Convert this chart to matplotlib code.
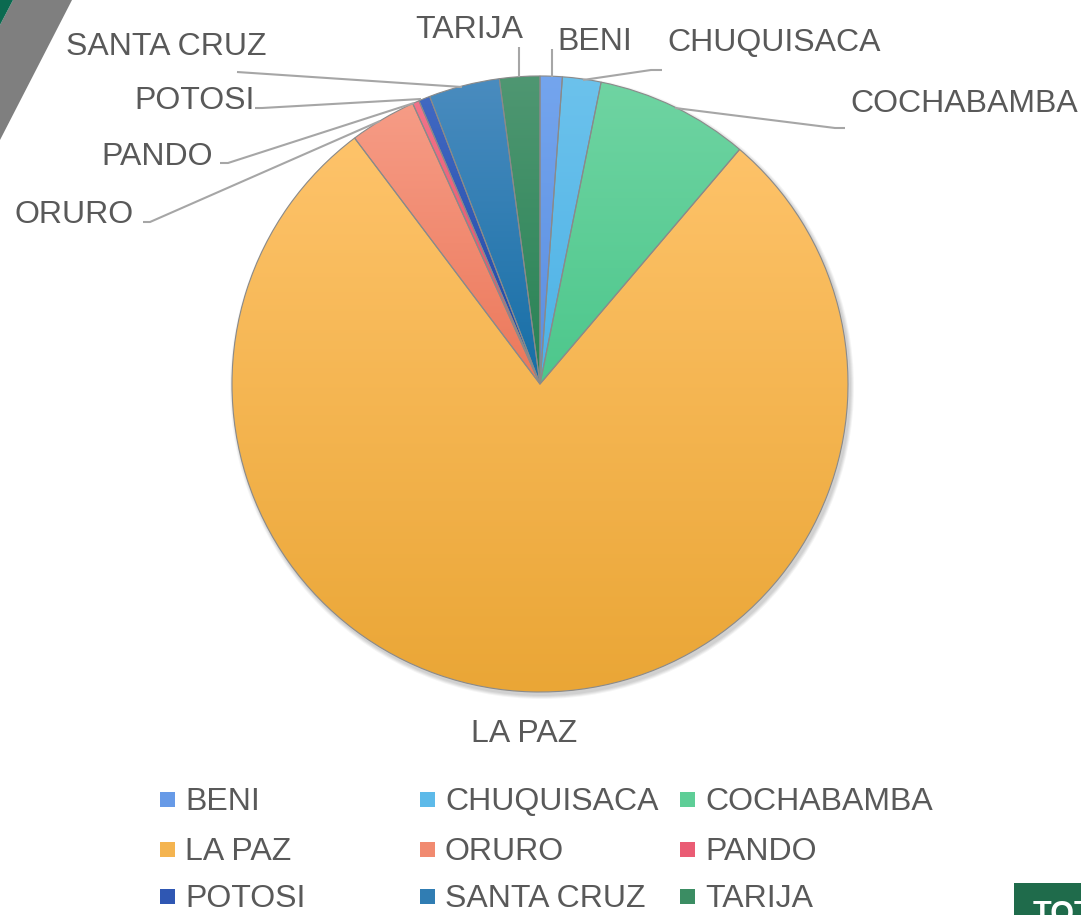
import numpy as np
import matplotlib
matplotlib.use("Agg")
import matplotlib.pyplot as plt
from matplotlib.patches import Circle, Polygon, Rectangle
from matplotlib.colors import to_rgb

# participacion por departamento (%)
deptos = ['BENI', 'CHUQUISACA', 'COCHABAMBA', 'LA PAZ', 'ORURO',
          'PANDO', 'POTOSI', 'SANTA CRUZ', 'TARIJA']
valores = [1.16, 2.02, 8.04, 78.5, 3.5, 0.35, 0.6, 3.72, 2.11]

# degradado arriba -> abajo de cada porcion
col_sup = ['#74a5ee', '#6cc2ec', '#6fd4a2', '#fec36a', '#f69c86',
           '#f2748a', '#4169c2', '#4a8cbf', '#4f9772']
col_inf = ['#5a8ee0', '#4db2e6', '#4dc78c', '#eaa636', '#ec785a',
           '#e2435e', '#1c44a4', '#166ea6', '#278254']

W, H = 1081, 915
plt.rcParams['font.family'] = ['Liberation Sans', 'DejaVu Sans']
txt_color = '#595959'
fs = 23

fig = plt.figure(figsize=(W / 100, H / 100), dpi=100)
ax = fig.add_axes([0, 0, 1, 1])

def py(y):
    # coordenada de pixel (desde arriba) a coordenada de datos
    return H - y

cx, cy, r = 540, py(384), 308

# sombra suave
for k, a in enumerate([0.05, 0.05, 0.05, 0.04]):
    ax.add_patch(Circle((cx + 2, cy - 3), r + 1 + k, color='black',
                        alpha=a, lw=0, zorder=1))

wedges, _ = ax.pie(valores, center=(cx, cy), radius=r, startangle=90,
                   counterclock=False,
                   wedgeprops=dict(edgecolor='#8a8a8a', linewidth=0.8))

for w, c1, c2 in zip(wedges, col_sup, col_inf):
    w.set_facecolor('none')
    w.set_zorder(3)
    v = w.get_patch_transform().transform(w.get_path().vertices)
    x0, x1 = v[:, 0].min(), v[:, 0].max()
    y0, y1 = v[:, 1].min(), v[:, 1].max()
    t = np.linspace(0, 1, 256)[:, None, None]
    grad = (1 - t) * np.array(to_rgb(c1)) + t * np.array(to_rgb(c2))
    im = ax.imshow(grad, extent=(x0, x1, y0, y1), origin='upper',
                   aspect='auto', interpolation='bilinear', zorder=2)
    im.set_clip_path(w)

# etiquetas con lineas guia (pixeles)
etiquetas = {
    'TARIJA': ((469, 38), [(519, 77), (519, 47)]),
    'BENI': ((595, 50), [(552, 77), (552, 49)]),
    'CHUQUISACA': ((774, 51), [(583, 80), (651, 70), (662, 70)]),
    'COCHABAMBA': ((964, 112), [(675, 108), (835, 128), (845, 128)]),
    'SANTA CRUZ': ((166, 55), [(462, 87), (237, 72)]),
    'POTOSI': ((195, 109), [(421, 99), (262, 108), (255, 108)]),
    'PANDO': ((157, 165), [(414, 103), (228, 163), (220, 163)]),
    'ORURO': ((74, 223), [(380, 121), (150, 222), (143, 222)]),
    'LA PAZ': ((524, 742), []),
}
for nombre, ((tx, ty), linea) in etiquetas.items():
    ax.text(tx, py(ty), nombre, ha='center', va='baseline',
            fontsize=fs, color=txt_color, zorder=5)
    if linea:
        xs = [p[0] for p in linea]
        ys = [py(p[1]) for p in linea]
        ax.plot(xs, ys, color='#a6a6a6', lw=1.5, zorder=4,
                solid_capstyle='butt')

# leyenda (3 columnas, por filas)
col_x = [160, 420, 680]
fila_y = [810, 860, 907]
for i, nombre in enumerate(deptos):
    fx = col_x[i % 3]
    fy = fila_y[i // 3]
    c = tuple((np.array(to_rgb(col_sup[i])) + np.array(to_rgb(col_inf[i]))) / 2)
    ax.add_patch(Rectangle((fx, py(fy - 3)), 15, 15, color=c, lw=0, zorder=5))
    ax.text(fx + 25, py(fy), nombre, ha='left', va='baseline',
            fontsize=fs, color=txt_color, zorder=5)

# decoracion de la diapositiva
ax.add_patch(Polygon([(13, py(0)), (72, py(0)), (0, py(140)), (0, py(25))],
                     closed=True, color='#7f7f7f', lw=0, zorder=6))
ax.add_patch(Polygon([(0, py(0)), (13, py(0)), (0, py(25))],
                     closed=True, color='#0b6a50', lw=0, zorder=6))
ax.add_patch(Rectangle((1014, 0), W - 1014, py(883), color='#1f6b4b',
                       lw=0, zorder=6))
ax.text(1033, py(923), 'TOTAL', ha='left', va='baseline', fontsize=22,
        fontweight='bold', color='white', zorder=7)

ax.set_xlim(0, W)
ax.set_ylim(0, H)
ax.set_aspect('auto')
ax.set_axis_off()

fig.savefig('out.png', dpi=100)
